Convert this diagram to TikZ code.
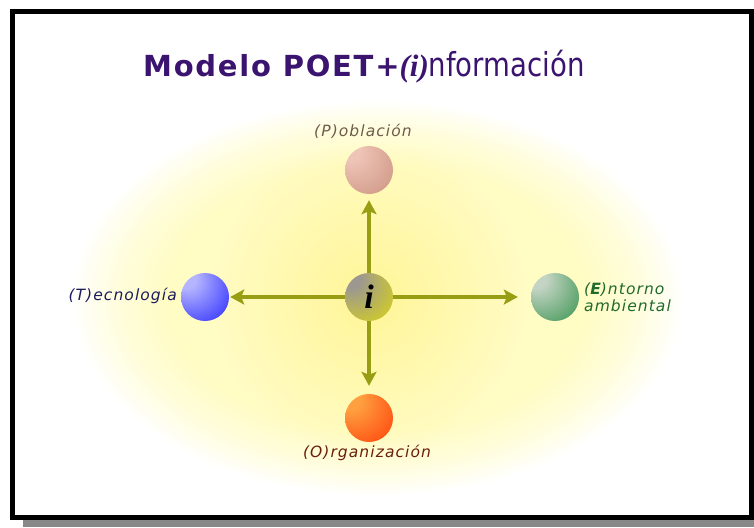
\documentclass[tikz,border=0pt]{standalone}
\usepackage{fontspec}
\usepackage{graphicx}
\setmainfont{DejaVu Sans}
\newfontfamily\titlefont[LetterSpace=6]{DejaVu Sans}
\newfontfamily\nffont{DejaVu Sans}
\newfontfamily\serifbi{Liberation Serif}
\newfontfamily\labelfont[LetterSpace=7]{DejaVu Sans}
\usetikzlibrary{arrows.meta,fadings}
\definecolor{titlecol}{HTML}{3B1470}
\definecolor{arrowcol}{HTML}{979E14}
\definecolor{pcol}{HTML}{6E5C4C}
\definecolor{tcol}{HTML}{1C1C5C}
\definecolor{ecol}{HTML}{1F6B2C}
\definecolor{ocol}{HTML}{6B1E0E}
\definecolor{glowA}{HTML}{FFFCC4}
\definecolor{glowB}{HTML}{FFFDDA}
\definecolor{glowC}{HTML}{FFFEF0}
\definecolor{glowin}{HTML}{FFF48C}
\definecolor{shadowcol}{HTML}{888888}
\definecolor{ballhi}{HTML}{FFFFFF}
\definecolor{balllo}{HTML}{000000}
\pgfdeclareradialshading{outerglow}{\pgfpoint{0bp}{0bp}}{%
  color(0bp)=(glowA); color(17bp)=(glowA); color(21bp)=(glowB);
  color(23.5bp)=(glowC); color(25bp)=(white); color(50bp)=(white)}
\pgfdeclareradialshading[ballhi,balllo]{softball}{\pgfpoint{-22bp}{22bp}}{%
  color(0bp)=(ballhi); color(10bp)=(ballhi); color(56bp)=(balllo); color(80bp)=(balllo)}
\tikzfading[name=glowfade, inner color=transparent!20, outer color=transparent!100]
\tikzset{
  ballnode/.style 2 args={circle, minimum size=48pt, inner sep=0pt,
    /utils/exec={\definecolor{ballhi}{HTML}{#1}\definecolor{balllo}{HTML}{#2}},
    shading=softball},
  lab/.style={inner sep=0pt, font=\labelfont\itshape\fontsize{15.5}{17}\selectfont},
  arr/.style={draw=arrowcol, line width=3.2pt, -{Stealth[length=14pt,width=15pt,inset=3pt]}}
}
\begin{document}
\begin{tikzpicture}[x=1pt,y=-1pt]
\useasboundingbox (0,0) rectangle (754,527);
\fill[white] (0,0) rectangle (754,527);
% glow
\shade[shading=outerglow] (377,298) ellipse [x radius=306pt, y radius=198pt];
\fill[glowin, path fading=glowfade] (369,297) circle [radius=155pt];
% frame and shadow
\fill[shadowcol] (23,520) rectangle (754,527);
\draw[line width=5pt] (12.5,11.5) rectangle (751,517.5);
% title
\node[anchor=base west, inner sep=0pt, text=titlecol] (title) at (143,77)
  {{\titlefont\bfseries\fontsize{29}{36}\selectfont Modelo POET+}{\serifbi\bfseries\itshape\fontsize{31}{36}\selectfont(i)}\scalebox{0.835}[1]{\nffont\fontsize{33}{40}\selectfont nformación}};
% balls
\node[ballnode={EEC4B6}{C68A78}] (P) at (369,170) {};
\node[ballnode={B4B4FF}{1010FF}] (T) at (205,297) {};
\node[ballnode={C4D4C4}{20883A}] (E) at (555,297) {};
\node[ballnode={FFA040}{FF3000}] (O) at (369,418) {};
\node[ballnode={9C9890}{E6E000}, font=\serifbi\bfseries\itshape\fontsize{34}{34}\selectfont] (i) at (369,297) {i};
% arrows
\draw[arr, shorten >=6pt] (i) -- (P);
\draw[arr, shorten >=1pt] (i) -- (T);
\draw[arr, shorten >=13pt] (i) -- (E);
\draw[arr, shorten >=8pt] (i) -- (O);
% labels
\node[lab, text=pcol, anchor=base] (lP) at (363,136) {(P)oblación};
\node[lab, text=tcol, anchor=base east] (lT) at (177,300) {(T)ecnología};
\node[lab, text=ecol, anchor=west, align=left] (lE) at (584,297) {(\textbf{E})ntorno\\ambiental};
\node[lab, text=ocol, anchor=base] (lO) at (367,457) {(O)rganización};
\end{tikzpicture}
\end{document}
